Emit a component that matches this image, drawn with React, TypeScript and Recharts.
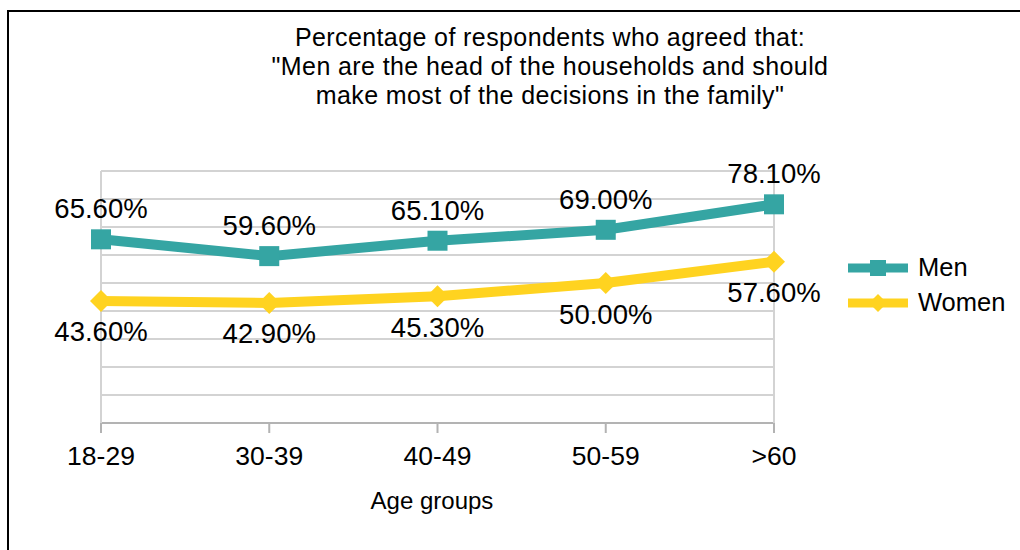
import React from "react";
import { LineChart, Line, XAxis, YAxis, CartesianGrid, LabelList } from "recharts";

const ageGroups = ["18-29", "30-39", "40-49", "50-59", ">60"];
const men = [65.6, 59.6, 65.1, 69.0, 78.1];
const women = [43.6, 42.9, 45.3, 50.0, 57.6];
const yTicks = [0, 10, 20, 30, 40, 50, 60, 70, 80, 90];

const MEN_COLOR = "#35a5a3";
const WOMEN_COLOR = "#ffd320";
const GRID = "#d3d3d3";
const FONT = "'Liberation Sans', Arial, sans-serif";

const data = ageGroups.map((g, i) => ({ group: g, men: men[i], women: women[i] }));

const fmt = (v: any) => Number(v).toFixed(2) + "%";

const SquareDot = (props: any) => {
  const { cx, cy } = props;
  if (cx == null || cy == null) return null;
  return <rect key={`s-${cx}`} x={cx - 10} y={cy - 10} width={20} height={20} fill={MEN_COLOR} />;
};

const DiamondDot = (props: any) => {
  const { cx, cy } = props;
  if (cx == null || cy == null) return null;
  const r = 11;
  return (
    <path
      key={`d-${cx}`}
      d={`M${cx},${cy - r} L${cx + r},${cy} L${cx},${cy + r} L${cx - r},${cy} Z`}
      fill={WOMEN_COLOR}
    />
  );
};

const NoTick = () => <g />;

const LegendBox = () => (
  <div style={{ fontFamily: FONT, fontSize: 25.5, color: "#000" }}>
    <div style={{ display: "flex", alignItems: "center", height: 35 }}>
      <svg width={70} height={24}>
        <line x1={0} y1={12} x2={60} y2={12} stroke={MEN_COLOR} strokeWidth={9} />
        <rect x={22} y={4} width={16} height={16} fill={MEN_COLOR} />
      </svg>
      <span>Men</span>
    </div>
    <div style={{ display: "flex", alignItems: "center", height: 35 }}>
      <svg width={70} height={24}>
        <line x1={0} y1={12} x2={60} y2={12} stroke={WOMEN_COLOR} strokeWidth={9} />
        <path d="M30,3 L39,12 L30,21 L21,12 Z" fill={WOMEN_COLOR} />
      </svg>
      <span>Women</span>
    </div>
  </div>
);

export default function App() {
  return (
    <div
      style={{
        position: "absolute",
        left: 0,
        top: 0,
        width: 1020,
        height: 550,
        background: "#fff",
        fontFamily: FONT,
      }}
    >
      <div
        style={{
          position: "absolute",
          left: 7,
          top: 10,
          width: 1013,
          height: 540,
          borderLeft: "2px solid #000",
          borderTop: "2px solid #000",
        }}
      />
      <div
        style={{
          position: "absolute",
          left: 200,
          width: 700,
          top: 23,
          textAlign: "center",
          fontSize: 25,
          letterSpacing: 0.4,
          lineHeight: "28.8px",
          color: "#000",
        }}
      >
        Percentage of respondents who agreed that:
        <br />
        "Men are the head of the households and should
        <br />
        make most of the decisions in the family"
      </div>
      <div
        style={{
          position: "absolute",
          left: 332,
          width: 200,
          top: 487,
          textAlign: "center",
          fontSize: 24,
          color: "#000",
        }}
      >
        Age groups
      </div>
      <div style={{ position: "absolute", left: 0, top: 0 }}>
        <LineChart
          width={1020}
          height={550}
          data={data}
          margin={{ top: 171, right: 245, bottom: 87, left: 100 }}
        >
          <CartesianGrid vertical={false} stroke={GRID} strokeWidth={2} />
          <XAxis
            dataKey="group"
            stroke="#b3b3b3"
            strokeWidth={2}
            tickSize={10}
            tickMargin={13}
            tick={{ fill: "#000", fontSize: 26.5, fontFamily: FONT }}
            height={40}
            interval={0}
          />
          <YAxis
            domain={[0, 90]}
            ticks={yTicks}
            tick={NoTick}
            tickLine={false}
            stroke={GRID}
            strokeWidth={2}
            width={1}
          />
          <YAxis
            yAxisId="right"
            orientation="right"
            domain={[0, 90]}
            ticks={yTicks}
            tick={NoTick}
            tickLine={false}
            stroke={GRID}
            strokeWidth={2}
            width={1}
          />
          <Line
            name="Men"
            dataKey="men"
            stroke={MEN_COLOR}
            strokeWidth={10}
            dot={<SquareDot />}
            activeDot={false}
            isAnimationActive={false}
          >
            <LabelList
              dataKey="men"
              position="top"
              offset={21}
              formatter={fmt}
              style={{ fill: "#000", fontSize: 27.5, fontFamily: FONT }}
            />
          </Line>
          <Line
            name="Women"
            dataKey="women"
            stroke={WOMEN_COLOR}
            strokeWidth={10}
            dot={<DiamondDot />}
            activeDot={false}
            isAnimationActive={false}
          >
            <LabelList
              dataKey="women"
              position="bottom"
              offset={21}
              formatter={fmt}
              style={{ fill: "#000", fontSize: 27.5, fontFamily: FONT }}
            />
          </Line>
        </LineChart>
      </div>
      <div style={{ position: "absolute", left: 848, top: 250 }}>
        <LegendBox />
      </div>
    </div>
  );
}
